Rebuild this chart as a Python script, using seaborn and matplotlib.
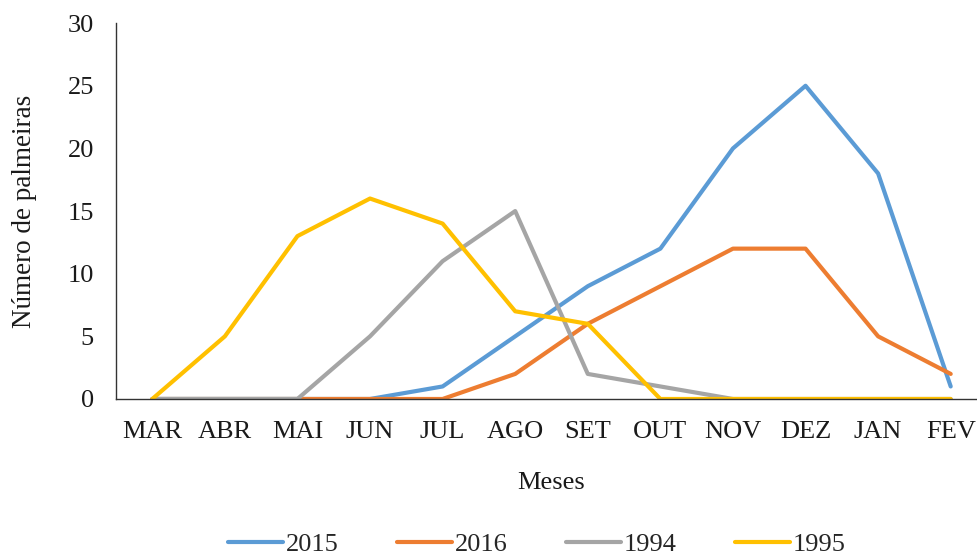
import pandas as pd
import seaborn as sns
import matplotlib.pyplot as plt

meses = ["MAR", "ABR", "MAI", "JUN", "JUL", "AGO", "SET", "OUT", "NOV", "DEZ", "JAN", "FEV"]
anos = ["2015", "2016", "1994", "1995"]
v2015 = [0, 0, 0, 0, 1, 5, 9, 12, 20, 25, 18, 1]
v2016 = [0, 0, 0, 0, 0, 2, 6, 9, 12, 12, 5, 2]
v1994 = [0, 0, 0, 5, 11, 15, 2, 1, 0, 0, 0, 0]
v1995 = [0, 5, 13, 16, 14, 7, 6, 0, 0, 0, 0, 0]
cores = ["#5B9BD5", "#ED7D31", "#A5A5A5", "#FFC000"]

series = {"2015": v2015, "2016": v2016, "1994": v1994, "1995": v1995}
rows = []
for ano in anos:
    for i, m in enumerate(meses):
        rows.append({"mes": i, "ano": ano, "valor": series[ano][i]})
df = pd.DataFrame(rows)

sns.set_style("white")
plt.rcParams["font.family"] = ["Liberation Serif", "DejaVu Serif"]

fs = 19
fig = plt.figure(figsize=(9.78, 5.56), dpi=100)
ax = fig.add_axes([0.1186, 0.2824, 0.8906, 0.676])

sns.lineplot(data=df, x="mes", y="valor", hue="ano", hue_order=anos,
             palette=cores, linewidth=3, ax=ax, legend=True)

ax.set_xlim(-0.5, 11.5)
ax.set_ylim(0, 30)
ax.set_xticks(range(len(meses)))
ax.set_xticklabels(meses)
ax.set_yticks(range(0, 31, 5))
ax.tick_params(axis="both", length=0, labelsize=fs, colors="#1a1a1a")
ax.tick_params(axis="x", pad=16)
ax.tick_params(axis="y", pad=16)

for s in ["top", "right"]:
    ax.spines[s].set_visible(False)
for s in ["left", "bottom"]:
    ax.spines[s].set_color("#333333")
    ax.spines[s].set_linewidth(1.0)

ax.set_xlabel("Meses", fontsize=fs, labelpad=21, color="#1a1a1a")
ax.set_ylabel("Número de palmeiras", fontsize=19.5, labelpad=22, color="#1a1a1a")

handles, labels = ax.get_legend_handles_labels()
ax.legend(handles, labels, loc="center", bbox_to_anchor=(0.483, -0.386),
          ncol=4, frameon=False, fontsize=fs, handlelength=2.1,
          handletextpad=0.1, columnspacing=2.2)

fig.savefig("out.png", dpi=100)
